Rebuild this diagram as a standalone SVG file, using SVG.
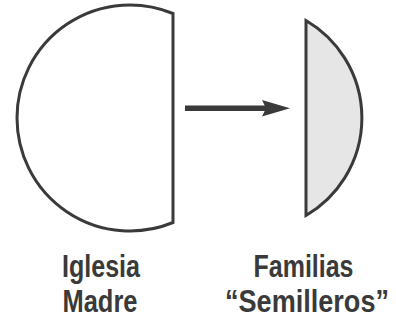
<svg xmlns="http://www.w3.org/2000/svg" width="396" height="320" viewBox="0 0 396 320">
<style>
.shape{stroke:#3a3a3a;stroke-width:3;stroke-linejoin:miter}
.lbl{font-family:"Liberation Sans",Arial,sans-serif;font-weight:bold;font-size:31px;fill:#3a3a3a;text-anchor:middle}
</style>
<defs>
<marker id="ah" viewBox="0 0 28 16" refX="28" refY="8" markerWidth="28" markerHeight="16" markerUnits="userSpaceOnUse" orient="auto">
<path d="M0,0 L28,8 L0,16 L4,8 Z" fill="#3a3a3a"/>
</marker>
</defs>
<rect width="396" height="320" fill="#ffffff"/>
<g id="iglesia-madre">
<path class="shape" d="M173,13.5 A113,113 0 1,0 173,222.5 Z" fill="#ffffff"/>
<text class="lbl" x="101" y="277" textLength="78" lengthAdjust="spacingAndGlyphs">Iglesia</text>
<text class="lbl" x="100" y="312" textLength="75" lengthAdjust="spacingAndGlyphs">Madre</text>
</g>
<g id="familias-semilleros">
<path class="shape" d="M306,20.5 A113,113 0 0,1 306,215.5 Z" fill="#e6e6e6"/>
<text class="lbl" x="303.5" y="277" textLength="100" lengthAdjust="spacingAndGlyphs">Familias</text>
<text class="lbl" x="307" y="312" textLength="164" lengthAdjust="spacingAndGlyphs">“Semilleros”</text>
</g>
<g id="connectors">
<line x1="185" y1="108.3" x2="266" y2="108.3" stroke="#3a3a3a" stroke-width="5.5"/>
<path d="M290,108.3 L262,100 L266,108.3 L262,116.6 Z" fill="#3a3a3a"/>
</g>
</svg>
